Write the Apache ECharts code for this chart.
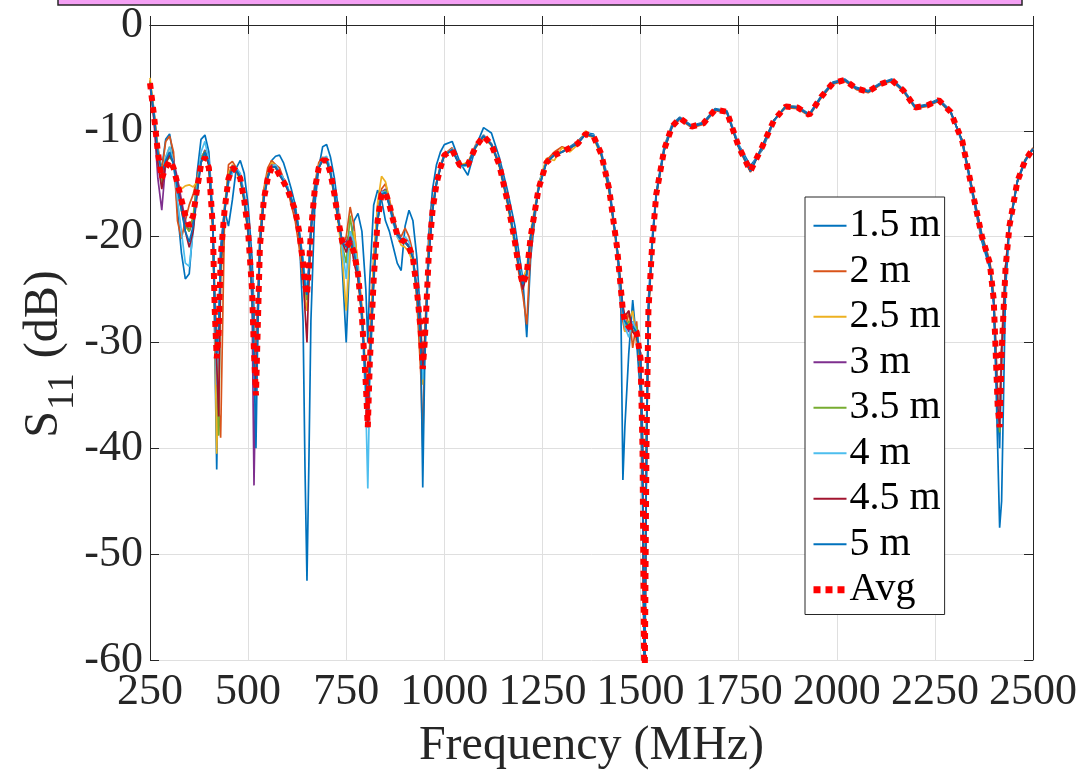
<!DOCTYPE html>
<html>
<head>
<meta charset="utf-8">
<script src="https://cdn.jsdelivr.net/npm/echarts@6/dist/echarts.min.js"></script>
<style>
html,body{margin:0;padding:0;background:#fff;}
#chart{width:1082px;height:776px;}
</style>
</head>
<body>
<div id="chart"></div>
<script>
// Frequency grid (MHz)
const freq = [
250,260,270,280,290,300,310,320,330,340,350,360,370,380,390,400,410,
415,420,425,430,440,450,460,470,480,490,500,510,515,520,525,530,
540,550,560,570,580,590,600,610,620,630,640,645,650,655,660,
670,680,690,700,710,720,730,740,750,760,770,780,790,800,805,810,
820,830,840,850,860,870,880,890,900,910,920,930,940,945,950,960,970,980,990,1000,
1020,1040,1060,1080,1100,1120,1140,1160,1180,1190,1200,1210,1220,
1240,1260,1280,1300,1320,1340,1360,1380,1400,1420,1440,1450,1455,1460,1470,1480,1490,1500,1505,1510,1515,1520,1530,1540,
1560,1580,1600,1630,1660,1690,1720,1750,1780,1810,1840,1870,1900,1930,1960,1990,2020,2050,2080,2110,2140,2170,2200,2230,2260,2290,2320,2350,
2370,2390,2400,2405,2410,2415,2420,2430,2440,2460,2480,2500
];

const s11_1_5m = [
-5.3,-8.0,-12.5,-13.5,-10.8,-10.3,-12.5,-17.5,-21.5,-24.0,-23.5,-19.0,-14.0,-10.8,-10.4,-12.0,-18.0,
-30.0,-42.0,-30.0,-21.0,-17.5,-19.0,-16.5,-13.5,-12.8,-14.0,-17.0,-22.0,-27.0,-33.0,-26.0,-20.0,
-16.0,-14.0,-12.8,-12.4,-12.3,-13.0,-14.2,-15.5,-17.0,-19.5,-28.0,-42.0,-52.5,-41.0,-28.0,
-17.0,-13.5,-11.5,-11.3,-12.5,-14.5,-17.5,-23.0,-30.0,-21.0,-18.5,-17.8,-19.5,-25.0,-30.0,-24.0,
-17.0,-15.6,-16.5,-18.5,-19.5,-21.0,-22.5,-23.2,-19.0,-17.5,-18.5,-22.0,-28.0,-33.0,-31.0,-20.0,-15.5,-13.2,-12.0,-11.3,
-11.0,-13.0,-14.2,-11.5,-9.7,-10.2,-12.5,-15.5,-19.0,-21.5,-24.0,-29.5,-22.0,
-15.0,-12.8,-12.2,-12.0,-11.5,-11.0,-10.2,-10.3,-12.0,-15.0,-21.0,-27.0,-43.0,-38.0,-31.0,-26.0,-30.0,-35.0,-45.0,-58.0,-42.0,-26.0,-20.0,-15.8,
-11.5,-9.4,-8.7,-9.5,-9.2,-7.9,-8.1,-11.3,-13.3,-11.8,-9.1,-7.6,-7.7,-8.4,-6.7,-5.4,-5.1,-5.9,-6.2,-5.5,-5.1,-6.1,-7.7,-7.5,-7.0,-8.1,-11.2,-16.8,
-20.5,-23.0,-26.0,-30.0,-36.0,-40.0,-32.0,-23.0,-19.2,-14.9,-12.9,-11.7
];
const s11_2m = [
-5.2,-8.2,-11.5,-13.8,-11.0,-10.5,-12.0,-18.5,-20.2,-18.5,-17.0,-16.0,-14.5,-12.5,-12.0,-13.0,-18.5,
-25.0,-30.0,-36.0,-39.0,-18.0,-13.2,-12.9,-13.5,-14.2,-16.0,-19.0,-24.0,-29.0,-32.0,-26.0,-20.0,
-15.5,-13.5,-12.8,-13.2,-13.5,-14.5,-15.5,-17.0,-18.5,-21.0,-24.0,-26.5,-27.0,-24.0,-19.0,
-15.0,-13.0,-12.5,-12.6,-14.0,-16.0,-18.0,-21.0,-20.0,-17.2,-19.0,-23.0,-28.0,-33.0,-36.0,-30.0,
-22.0,-17.5,-15.5,-15.0,-16.5,-18.0,-19.5,-20.0,-19.2,-20.0,-21.5,-26.0,-33.0,-39.9,-30.0,-21.0,-17.0,-14.8,-13.3,-12.2,
-11.6,-13.4,-13.0,-11.3,-10.4,-11.2,-13.0,-16.2,-20.5,-23.5,-25.5,-28.3,-21.0,
-15.3,-12.8,-12.0,-11.5,-11.8,-11.0,-10.4,-10.6,-12.3,-15.6,-21.5,-26.0,-28.0,-29.0,-27.0,-30.5,-28.0,-33.0,-42.0,-62.0,-41.0,-27.0,-20.5,-16.2,
-11.9,-9.7,-8.9,-9.7,-9.4,-8.1,-8.3,-11.6,-13.9,-11.4,-9.0,-7.8,-7.9,-8.6,-6.9,-5.6,-5.3,-6.1,-6.4,-5.7,-5.3,-6.3,-7.9,-7.7,-7.2,-8.3,-10.9,-16.3,
-19.8,-22.3,-25.5,-30.0,-35.0,-37.0,-30.0,-22.8,-18.8,-14.7,-12.7,-11.6
];
const s11_2_5m = [
-5.0,-8.3,-11.8,-14.0,-12.5,-11.5,-13.0,-15.0,-15.5,-15.2,-15.1,-15.3,-14.8,-13.0,-12.3,-13.2,-19.5,
-28.0,-40.5,-33.0,-22.0,-17.0,-14.0,-13.2,-13.8,-14.8,-16.8,-19.5,-25.0,-30.0,-36.0,-27.0,-20.5,
-15.8,-14.0,-13.0,-13.3,-14.0,-14.5,-15.3,-16.5,-17.5,-20.0,-23.5,-26.0,-27.0,-24.0,-19.5,
-15.2,-13.3,-12.6,-12.8,-14.2,-16.3,-18.8,-22.0,-27.0,-21.0,-19.5,-22.5,-26.5,-33.0,-37.0,-31.0,
-22.0,-16.8,-14.3,-14.8,-16.5,-18.5,-20.0,-20.8,-21.0,-21.5,-22.5,-25.5,-30.0,-34.0,-29.0,-21.5,-17.2,-14.9,-13.4,-12.2,
-11.9,-13.2,-13.0,-11.6,-10.6,-11.4,-13.4,-16.8,-21.0,-23.0,-24.0,-23.0,-19.5,
-15.2,-12.6,-12.8,-11.6,-12.0,-11.3,-10.0,-10.7,-12.4,-15.8,-21.0,-25.0,-26.5,-29.0,-28.0,-27.0,-30.0,-31.0,-39.0,-66.0,-39.0,-27.5,-20.7,-16.1,
-11.7,-9.5,-8.8,-9.6,-9.3,-8.0,-8.2,-11.5,-13.7,-11.6,-9.0,-7.6,-7.8,-8.5,-6.8,-5.5,-5.2,-6.0,-6.3,-5.6,-5.2,-6.2,-7.8,-7.6,-7.1,-8.2,-11.0,-16.5,
-20.2,-22.3,-26.0,-31.0,-36.0,-37.0,-31.0,-23.0,-19.0,-14.8,-12.8,-11.7
];
const s11_3m = [
-5.6,-9.0,-14.5,-17.5,-13.0,-12.0,-12.8,-14.5,-16.5,-18.5,-19.5,-18.5,-15.5,-12.8,-11.8,-13.0,-19.0,
-27.0,-33.0,-29.0,-21.5,-17.3,-14.3,-13.3,-13.5,-14.3,-16.5,-19.5,-26.0,-43.5,-32.0,-26.0,-21.0,
-16.2,-14.2,-13.2,-13.4,-14.0,-14.5,-15.3,-16.5,-17.8,-19.6,-22.5,-24.5,-25.0,-22.5,-19.0,
-15.3,-13.4,-12.7,-12.7,-14.0,-16.0,-18.5,-20.5,-20.5,-19.5,-21.5,-23.0,-27.0,-34.0,-37.5,-32.0,
-24.0,-18.3,-15.8,-15.5,-16.8,-18.3,-19.5,-20.2,-20.5,-20.8,-22.0,-25.0,-29.5,-33.0,-30.0,-22.0,-17.5,-15.0,-13.4,-12.3,
-11.8,-13.3,-13.2,-11.5,-10.5,-11.3,-13.2,-16.5,-20.5,-23.0,-24.8,-23.5,-20.0,
-15.5,-13.0,-12.3,-12.0,-11.6,-11.2,-10.3,-10.5,-12.2,-15.5,-21.0,-25.0,-27.5,-28.0,-29.0,-28.0,-29.5,-31.5,-41.0,-64.0,-40.0,-27.0,-20.5,-16.0,
-11.8,-9.6,-8.8,-9.6,-9.3,-8.0,-8.3,-11.5,-13.8,-11.5,-9.0,-7.7,-7.8,-8.5,-6.8,-5.5,-5.2,-6.0,-6.3,-5.6,-5.2,-6.2,-7.8,-7.6,-7.1,-8.2,-11.0,-16.5,
-20.0,-22.5,-26.5,-31.0,-35.5,-37.5,-31.0,-23.0,-19.0,-14.8,-12.8,-11.7
];
const s11_3_5m = [
-5.4,-8.6,-12.8,-15.0,-13.0,-12.5,-13.0,-15.5,-17.5,-19.0,-19.5,-18.0,-15.0,-12.6,-11.9,-13.2,-19.0,
-27.0,-32.0,-38.8,-24.0,-17.5,-14.3,-13.4,-13.7,-14.5,-16.6,-19.8,-25.5,-31.0,-34.0,-27.5,-21.0,
-16.3,-14.3,-13.3,-13.5,-14.2,-14.6,-15.3,-16.4,-17.5,-19.5,-22.5,-25.0,-26.0,-23.5,-19.5,
-15.4,-13.5,-12.8,-12.9,-14.1,-16.1,-18.6,-20.8,-22.5,-18.0,-21.0,-24.0,-27.5,-34.5,-38.0,-32.5,
-24.5,-18.6,-16.0,-15.6,-16.9,-18.4,-19.7,-20.3,-20.6,-21.0,-22.0,-25.2,-29.3,-33.0,-30.0,-22.0,-17.5,-15.0,-13.5,-12.3,
-11.8,-13.3,-13.1,-11.5,-10.5,-11.3,-13.2,-16.5,-20.3,-22.8,-24.5,-23.5,-20.0,
-15.5,-13.0,-12.3,-12.0,-11.6,-11.2,-10.3,-10.5,-12.2,-15.5,-21.0,-25.0,-27.0,-28.5,-28.0,-29.0,-28.5,-32.0,-40.0,-63.0,-38.0,-27.0,-20.5,-16.0,
-11.8,-9.6,-8.8,-9.6,-9.3,-8.0,-8.2,-11.5,-13.8,-11.5,-9.0,-7.7,-7.8,-8.5,-6.8,-5.5,-5.2,-6.0,-6.3,-5.6,-5.2,-6.2,-7.8,-7.6,-7.1,-8.2,-11.0,-16.5,
-20.0,-22.5,-26.0,-31.0,-36.0,-38.5,-31.0,-23.0,-19.0,-14.8,-12.8,-11.7
];
const s11_4m = [
-5.5,-8.6,-12.2,-14.3,-12.5,-11.5,-13.0,-16.5,-19.5,-22.5,-22.8,-19.5,-15.5,-12.0,-11.0,-12.8,-18.5,
-27.5,-34.0,-30.0,-22.0,-17.5,-15.0,-14.0,-13.5,-14.0,-16.0,-19.0,-24.0,-30.0,-36.0,-28.0,-21.0,
-16.5,-14.5,-13.3,-13.2,-13.8,-14.5,-15.2,-16.3,-17.5,-19.5,-22.0,-24.0,-25.0,-23.0,-19.5,
-15.5,-13.5,-12.6,-12.4,-13.6,-15.8,-18.3,-21.0,-24.0,-19.5,-20.5,-23.0,-28.0,-36.0,-43.8,-34.0,
-24.0,-18.0,-15.8,-15.8,-17.2,-18.8,-20.0,-20.5,-20.0,-20.5,-21.8,-25.0,-29.0,-33.5,-30.0,-22.0,-17.3,-15.0,-13.4,-12.3,
-11.7,-13.4,-13.3,-11.4,-10.4,-11.2,-13.1,-16.4,-20.3,-22.5,-24.3,-24.0,-20.0,
-15.4,-13.0,-12.3,-12.0,-11.6,-11.2,-10.3,-10.4,-12.1,-15.4,-21.0,-25.5,-27.5,-28.5,-29.5,-28.0,-29.0,-31.0,-38.0,-62.0,-40.0,-26.5,-20.3,-16.0,
-11.8,-9.6,-8.8,-9.6,-9.3,-8.0,-8.2,-11.4,-13.7,-11.5,-9.0,-7.7,-7.8,-8.5,-6.8,-5.5,-5.2,-6.0,-6.3,-5.6,-5.2,-6.2,-7.8,-7.6,-7.1,-8.2,-11.0,-16.5,
-20.0,-22.5,-26.0,-31.0,-36.0,-38.0,-31.0,-23.0,-19.0,-14.8,-12.8,-11.7
];
const s11_4_5m = [
-5.6,-8.8,-13.0,-15.5,-13.0,-12.3,-13.0,-15.0,-17.0,-19.5,-21.0,-19.5,-16.0,-13.0,-12.0,-13.3,-19.0,
-27.0,-32.0,-37.0,-23.0,-17.8,-14.5,-13.6,-13.8,-14.5,-16.5,-19.5,-25.0,-31.0,-35.0,-28.0,-21.0,
-16.5,-14.4,-13.4,-13.4,-14.2,-14.8,-15.5,-16.5,-17.6,-19.8,-23.0,-27.0,-30.0,-24.0,-19.5,
-15.5,-13.5,-12.8,-12.8,-14.0,-16.0,-18.5,-20.5,-21.5,-20.0,-22.5,-24.0,-27.5,-34.0,-38.0,-32.0,
-24.0,-18.5,-16.0,-15.9,-17.0,-18.5,-19.8,-20.3,-20.5,-21.0,-22.0,-25.0,-29.0,-32.5,-30.0,-22.0,-17.5,-15.0,-13.5,-12.3,
-11.8,-13.3,-13.2,-11.5,-10.5,-11.3,-13.2,-16.5,-20.5,-23.0,-25.0,-23.5,-20.0,
-15.5,-13.0,-12.3,-12.0,-11.6,-11.2,-10.3,-10.5,-12.2,-15.5,-21.0,-25.0,-26.5,-27.5,-27.0,-29.0,-29.5,-31.0,-40.0,-65.0,-41.0,-27.0,-20.5,-16.0,
-11.8,-9.6,-8.8,-9.6,-9.3,-8.0,-8.2,-11.5,-13.8,-11.5,-9.0,-7.7,-7.8,-8.5,-6.8,-5.5,-5.2,-6.0,-6.3,-5.6,-5.2,-6.2,-7.8,-7.6,-7.1,-8.2,-11.0,-16.5,
-20.0,-22.5,-26.0,-31.0,-36.0,-38.0,-31.0,-23.0,-19.0,-14.8,-12.8,-11.7
];
const s11_5m = [
-5.5,-8.4,-12.0,-14.0,-12.8,-12.0,-13.2,-15.5,-17.5,-19.5,-20.5,-19.0,-15.8,-13.0,-12.0,-13.0,-18.5,
-26.5,-31.0,-28.5,-22.0,-17.5,-14.6,-13.6,-13.7,-14.4,-16.4,-19.3,-25.0,-32.0,-40.0,-28.0,-20.5,
-16.3,-14.4,-13.4,-13.4,-14.1,-14.7,-15.4,-16.4,-17.4,-19.4,-22.5,-24.5,-25.5,-23.0,-19.5,
-15.5,-13.5,-12.7,-12.7,-14.0,-16.0,-18.5,-20.5,-21.0,-20.5,-21.5,-23.5,-27.5,-34.0,-37.0,-32.0,
-24.0,-18.5,-16.0,-15.8,-17.0,-18.5,-19.8,-20.3,-20.5,-21.0,-22.0,-25.5,-30.0,-43.7,-32.0,-22.0,-17.5,-15.0,-13.5,-12.3,
-11.8,-13.3,-13.2,-11.5,-10.5,-11.3,-13.2,-16.5,-20.5,-23.0,-24.5,-23.5,-20.0,
-15.5,-13.0,-12.3,-12.0,-11.6,-11.2,-10.3,-10.5,-12.2,-15.5,-21.0,-25.0,-27.0,-28.0,-28.5,-28.5,-29.0,-31.5,-40.0,-66.0,-40.0,-27.0,-20.5,-16.0,
-11.8,-9.6,-8.8,-9.6,-9.3,-8.0,-8.2,-11.5,-13.8,-11.5,-9.0,-7.7,-7.8,-8.5,-6.8,-5.5,-5.2,-6.0,-6.3,-5.6,-5.2,-6.2,-7.8,-7.6,-7.1,-8.2,-11.0,-16.5,
-20.0,-22.8,-26.5,-33.0,-40.0,-47.5,-45.0,-25.0,-19.2,-14.8,-12.8,-11.7
];
const s11_avg = [
-5.5,-8.5,-12.0,-14.5,-13.5,-12.8,-13.5,-15.0,-16.5,-18.0,-19.0,-18.0,-15.5,-13.2,-12.5,-13.5,-19.0,
-27.0,-31.5,-29.0,-22.0,-17.5,-14.5,-13.5,-13.8,-14.5,-16.5,-19.5,-25.0,-31.0,-35.0,-28.0,-21.0,
-16.5,-14.5,-13.5,-13.5,-14.2,-14.8,-15.5,-16.5,-17.5,-19.5,-22.5,-24.5,-25.5,-23.0,-19.5,
-15.5,-13.5,-12.8,-12.8,-14.0,-16.0,-18.5,-20.5,-21.0,-20.5,-21.5,-23.5,-27.5,-34.0,-38.0,-32.0,
-24.0,-18.5,-16.0,-15.8,-17.0,-18.5,-19.8,-20.3,-20.5,-21.0,-22.0,-25.0,-29.0,-32.5,-30.0,-22.0,-17.5,-15.0,-13.5,-12.3,
-11.8,-13.3,-13.2,-11.5,-10.5,-11.3,-13.2,-16.5,-20.5,-23.0,-24.5,-23.5,-20.0,
-15.5,-13.0,-12.3,-12.0,-11.6,-11.2,-10.3,-10.5,-12.2,-15.5,-21.0,-25.0,-27.0,-28.0,-28.5,-28.5,-29.0,-31.5,-40.0,-65.0,-40.0,-27.0,-20.5,-16.0,
-11.8,-9.6,-8.8,-9.6,-9.3,-8.0,-8.2,-11.5,-13.8,-11.5,-9.0,-7.7,-7.8,-8.5,-6.8,-5.5,-5.2,-6.0,-6.3,-5.6,-5.2,-6.2,-7.8,-7.6,-7.1,-8.2,-11.0,-16.5,
-20.0,-22.5,-26.0,-31.0,-36.0,-38.0,-31.0,-23.0,-19.0,-14.8,-12.8,-11.7
];

const seriesNames = ['1.5 m','2 m','2.5 m','3 m','3.5 m','4 m','4.5 m','5 m'];
const seriesValues = [s11_1_5m, s11_2m, s11_2_5m, s11_3m, s11_3_5m, s11_4m, s11_4_5m, s11_5m];
const seriesColors = ['#0072BD','#D95319','#EDB120','#7E2F8E','#77AC30','#4DBEEE','#A2142F','#0072BD'];
const xTicks = {min: 250, max: 2500, interval: 250};
const yTicks = {min: -60, max: 0, interval: 10};

const FONT = "'Liberation Serif','Times New Roman',serif";
const pair = vals => freq.map((f, i) => [f, vals[i]]);

const series = seriesNames.map((n, k) => ({
  name: n, type: 'line', data: pair(seriesValues[k]), symbol: 'none',
  lineStyle: {color: seriesColors[k], width: 1.7}, itemStyle: {color: seriesColors[k]},
  clip: true, silent: true
}));
series.push({
  name: 'Avg', type: 'line', data: pair(s11_avg), symbol: 'none',
  lineStyle: {color: '#FF0000', width: 6, type: [6, 6]}, itemStyle: {color: '#FF0000'},
  clip: true, silent: true
});

const legendData = seriesNames.map(n => ({name: n, lineStyle: {width: 2}}))
  .concat([{name: 'Avg', lineStyle: {width: 7, type: [7, 5]}}]);

// y-axis title with subscript, laid out from measured text widths
const tctx = document.createElement('canvas').getContext('2d');
const measure = (t, s) => { tctx.font = s + "px 'Liberation Serif', serif"; return tctx.measureText(t).width; };
const MAIN = 48, SUB = 38;
const wS = measure('S', MAIN), wSub = measure('11', SUB), wDb = measure(' (dB)', MAIN);
const totalW = wS + 1 + wSub + 3 + wDb;
const lx0 = -totalW / 2;
const tStyle = (t, s) => ({text: t, fontSize: s, fontFamily: FONT, fill: '#262626', align: 'left', verticalAlign: 'middle'});
const yTitle = {
  type: 'group', x: 59, y: 354, rotation: Math.PI / 2, silent: true,
  children: [
    {type: 'text', x: lx0, y: -0.3 * MAIN, style: tStyle('S', MAIN)},
    {type: 'text', x: lx0 + wS + 1, y: 15 - 0.3 * SUB, style: tStyle('11', SUB)},
    {type: 'text', x: lx0 + wS + 1 + wSub + 3, y: -0.3 * MAIN, style: tStyle(' (dB)', MAIN)}
  ]
};

const axisCommon = {
  axisLine: {show: true, lineStyle: {color: '#262626', width: 1}},
  axisTick: {show: true, inside: true, length: 9, lineStyle: {color: '#262626'}},
};

const chart = echarts.init(document.getElementById('chart'), null, {renderer: 'canvas'});
chart.setOption({
  animation: false,
  backgroundColor: '#ffffff',
  grid: {left: 150, right: 49, top: 25, bottom: 116, show: false, containLabel: false, outerBoundsMode: 'none'},
  graphic: [{
    type: 'rect', shape: {x: 58, y: -12, width: 964, height: 17},
    style: {fill: '#F4A0F4', stroke: '#262626', lineWidth: 1.5}, z: 100
  }, yTitle],
  legend: {
    orient: 'vertical', left: 805, top: 197,
    padding: [6, 4, 2, 5], itemGap: 0, itemWidth: 33, itemHeight: 14,
    backgroundColor: '#ffffff', borderColor: '#262626', borderWidth: 1,
    selectedMode: false,
    itemStyle: {opacity: 0, borderWidth: 0},
    textStyle: {fontFamily: FONT, fontSize: 40, color: '#000', lineHeight: 45.5, padding: [0, 0, 0, -2]},
    data: legendData
  },
  xAxis: [Object.assign({
    type: 'value', min: xTicks.min, max: xTicks.max, interval: xTicks.interval,
    name: 'Frequency (MHz)', nameLocation: 'middle', nameGap: 62,
    nameTextStyle: {fontFamily: FONT, fontSize: 48, color: '#262626'},
    axisLabel: {fontFamily: FONT, fontSize: 44, color: '#262626', margin: 10,
      showMinLabel: true, showMaxLabel: true, hideOverlap: false,
      formatter: v => String(v)},
    splitLine: {show: true, lineStyle: {color: '#dfdfdf', width: 1}}
  }, axisCommon), Object.assign({
    type: 'value', position: 'top', min: xTicks.min, max: xTicks.max, interval: xTicks.interval,
    axisLabel: {show: false}, splitLine: {show: false}
  }, axisCommon)],
  yAxis: [Object.assign({
    type: 'value', min: yTicks.min, max: yTicks.max, interval: yTicks.interval,
    axisLabel: {fontFamily: FONT, fontSize: 44, color: '#262626', margin: 7,
      showMinLabel: true, showMaxLabel: true, formatter: v => String(v)},
    splitLine: {show: true, lineStyle: {color: '#dfdfdf', width: 1}}
  }, axisCommon), Object.assign({
    type: 'value', position: 'right', min: yTicks.min, max: yTicks.max, interval: yTicks.interval,
    axisLabel: {show: false}, splitLine: {show: false}
  }, axisCommon)],
  series: series
});
</script>
</body>
</html>
